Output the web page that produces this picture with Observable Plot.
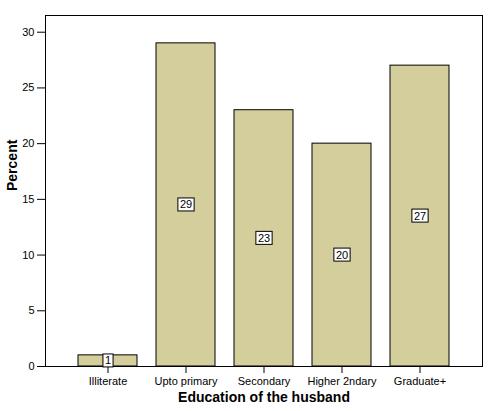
<!DOCTYPE html>
<html><head><meta charset="utf-8">
<script src="https://cdn.jsdelivr.net/npm/d3@7"></script>
<script src="https://cdn.jsdelivr.net/npm/@observablehq/plot@0.6"></script>
<style>body{margin:0;background:#fff;} svg{font-family:"Liberation Sans",Arial,sans-serif;}</style>
</head><body><div id="chart"></div>
<script>
const categories = ["Illiterate", "Upto primary", "Secondary", "Higher 2ndary", "Graduate+"];
const percents = [1, 29, 23, 20, 27];
const yTicks = [0, 5, 10, 15, 20, 25, 30];

const data = categories.map((c, i) => ({category: c, value: percents[i]}));

const chart = Plot.plot({
  width: 495, height: 411,
  marginTop: 15, marginBottom: 45, marginLeft: 45, marginRight: 13,
  style: {fontFamily: "'Liberation Sans', Arial, sans-serif", fontSize: "11px", background: "#fff", color: "#000"},
  x: {domain: categories, paddingInner: 0.25, paddingOuter: 0.41, label: null},
  y: {domain: [0, 31.5], label: null},
  marks: [
    Plot.barY(data, {x: "category", y: "value", fill: "#d3ce9b", stroke: "#000", strokeWidth: 1}),
    Plot.frame({stroke: "#000", strokeWidth: 1}),
    Plot.axisY({ticks: yTicks, tickSize: 8, tickPadding: 3, fontSize: 11, label: null, stroke: "#000"}),
    Plot.axisX({tickSize: 7, tickPadding: 4, fontSize: 11, label: null, stroke: "#000"}),
    Plot.text(data, {x: "category", y: d => d.value / 2, text: d => String(d.value), fontSize: 11, fill: "#000"}),
    Plot.text(["Percent"], {frameAnchor: "left", rotate: -90, dx: -33, fontSize: 14, fontWeight: "bold", fill: "#000"}),
    Plot.text(["Education of the husband"], {frameAnchor: "bottom", dy: 35, fontSize: 14, fontWeight: "bold", fill: "#000"})
  ]
});
document.getElementById("chart").appendChild(chart);

// white boxes behind bar value labels
const labelTexts = [...chart.querySelectorAll("text")].filter(t => percents.map(String).includes(t.textContent) && t.closest('g[aria-label="text"]'));
labelTexts.forEach(function(el) {
  const b = el.getBBox();
  const t = el.getAttribute("transform");
  const r = document.createElementNS("http://www.w3.org/2000/svg", "rect");
  r.setAttribute("x", b.x - 2);
  r.setAttribute("y", b.y - 0.5);
  r.setAttribute("width", b.width + 4);
  r.setAttribute("height", b.height + 1);
  r.setAttribute("fill", "#fff");
  r.setAttribute("stroke", "#000");
  if (t) r.setAttribute("transform", t);
  el.parentNode.insertBefore(r, el);
});
</script></body></html>
